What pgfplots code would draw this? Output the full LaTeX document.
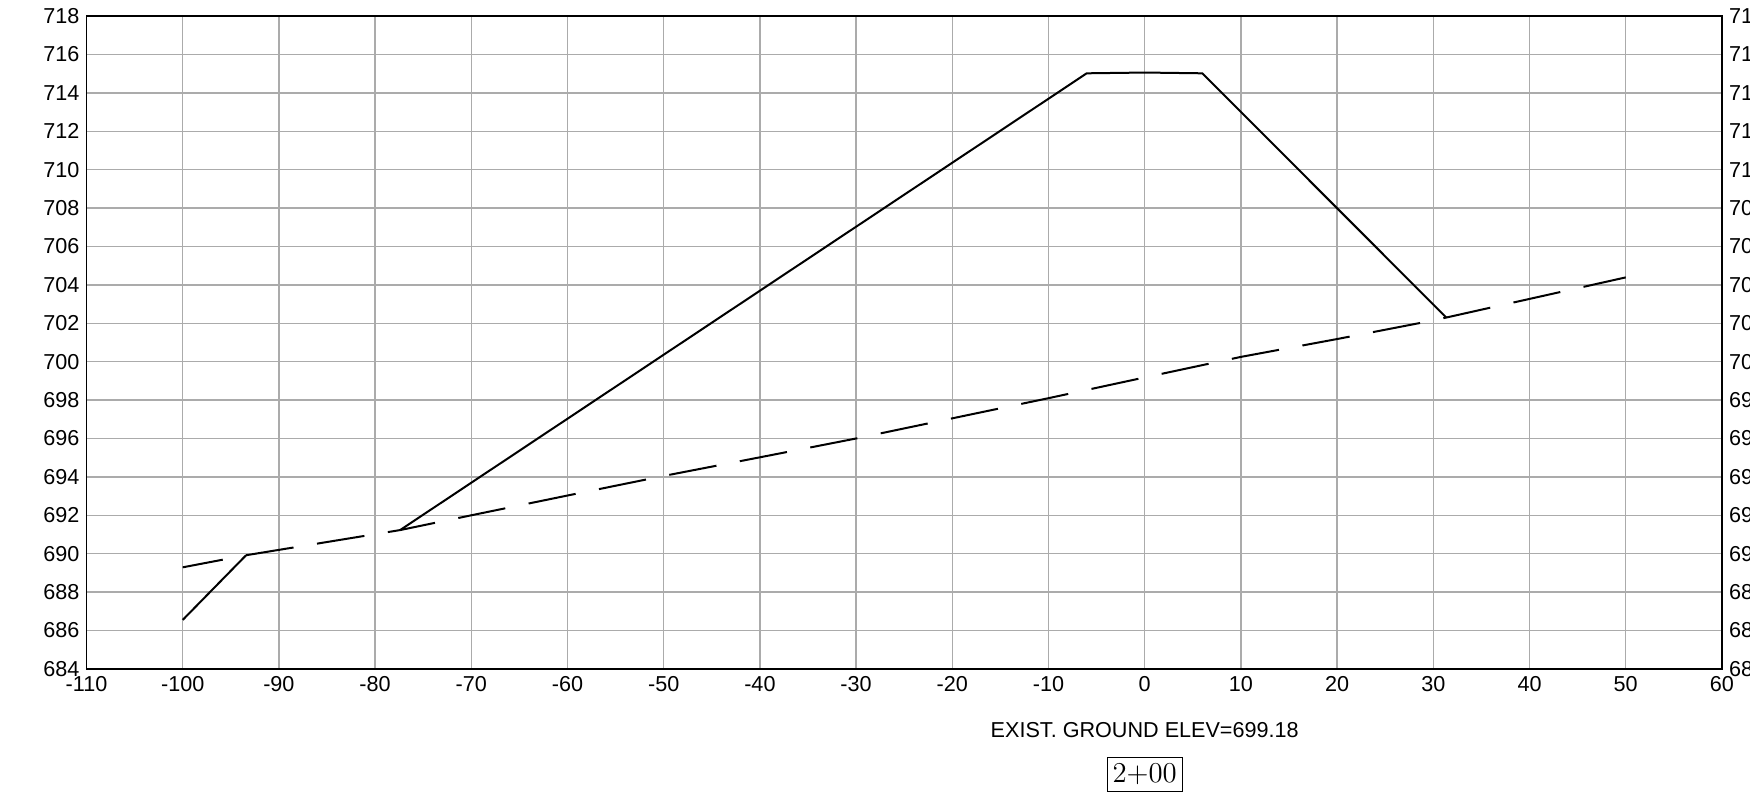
\documentclass[border=0pt]{standalone}
\usepackage{pgfplots}
\pgfplotsset{compat=1.18}
\usepackage{fontspec}
\setmainfont{Liberation Sans}
\definecolor{gridgray}{HTML}{ABABAB}
\pgfplotstableread{
x y
-100 689.29
-93.41 689.92
-77.4 691.23
-70 692.0
-60 693.03
-50 694.05
-40 695.02
-30 696.0
-20 697.05
-10 698.1
0 699.18
10 700.25
20 701.18
30 702.15
31.35 702.3
40 703.27
50 704.39
}\ground
\pgfplotstableread{
x y
-100 686.55
-93.41 689.92
}\slopeleft
\pgfplotstableread{
x y
-77.4 691.23
-6.03 715.02
0 715.06
5.99 715.02
31.35 702.3
}\section
\begin{document}
\begin{tikzpicture}
\begin{axis}[name=main, scale only axis, width=817.7pt, height=326.4pt,
  xmin=-110, xmax=60, ymin=684, ymax=718,
  xtick={-110,-100,...,60}, ytick={684,686,...,718},
  grid=major, major grid style={gridgray, line width=0.65pt},
  axis line style={black, line width=0.8pt},
  major tick length=0pt,
  tick label style={font=\fontsize{10.8}{13}\selectfont},
  /pgf/number format/assume math mode=true,
  /pgf/number format/1000 sep={},
  clip=false]
\addplot[black, line width=1pt, dash pattern=on 24pt off 11.9pt, dash phase=3.6pt] table {\ground};
\addplot[black, line width=1pt] table {\slopeleft};
\addplot[black, line width=1pt] table {\section};
\end{axis}
\begin{axis}[at={(main.south west)}, anchor=south west, scale only axis,
  width=817.7pt, height=326.4pt,
  xmin=-110, xmax=60, ymin=684, ymax=718,
  axis y line*=right, axis x line=none,
  ytick={684,686,...,718},
  axis line style={black, line width=0.8pt},
  major tick length=0pt,
  tick label style={font=\fontsize{10.8}{13}\selectfont},
  /pgf/number format/assume math mode=true]
\addplot[draw=none] coordinates {(0,700)};
\end{axis}
\node[font=\fontsize{10.8}{13}\selectfont] at ([shift={(529.1pt,-30.55pt)}]main.south west) {EXIST. GROUND ELEV=699.18};
\node[draw, line width=0.6pt, minimum width=37.5pt, minimum height=17.2pt, inner sep=0pt, font=\fontsize{13.7}{15}\selectfont] at ([shift={(529.1pt,-52.8pt)}]main.south west) {$2{+}00$};
\pgfresetboundingbox
\path ([shift={(-43.25pt,-69.55pt)}]main.south west) rectangle ([shift={(14.05pt,8.05pt)}]main.north east);
\end{tikzpicture}
\end{document}
